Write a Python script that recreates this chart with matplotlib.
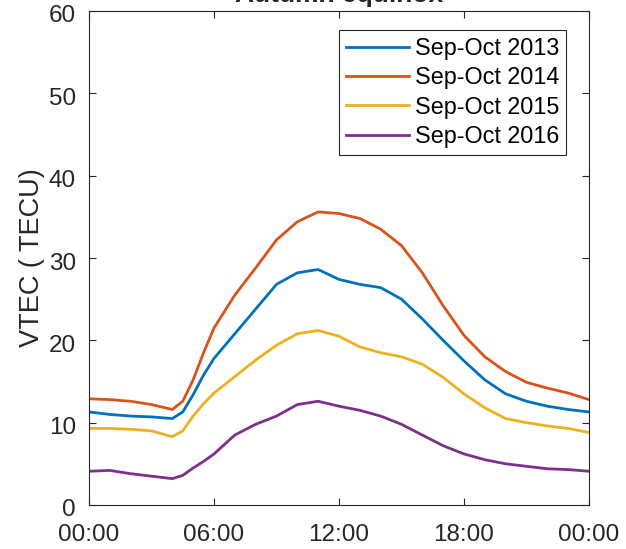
import matplotlib.pyplot as plt
import matplotlib.transforms as mtransforms
import numpy as np

plt.rcParams['font.family'] = ['Liberation Sans', 'DejaVu Sans']

# horas do dia (UT) e VTEC medio
horas = [0, 1, 2, 3, 4, 4.5, 5, 5.5, 6, 7, 8, 9, 10, 11, 12, 13, 14, 15, 16, 17, 18, 19, 20, 21, 22, 23, 24]
vtec_2013 = [11.3, 11.0, 10.8, 10.7, 10.5, 11.3, 13.4, 15.8, 17.8, 20.8, 23.8, 26.8, 28.2, 28.6, 27.4, 26.8, 26.4, 25.0, 22.6, 20.0, 17.5, 15.2, 13.5, 12.6, 12.0, 11.6, 11.3]
vtec_2014 = [12.9, 12.8, 12.6, 12.2, 11.6, 12.6, 15.2, 18.5, 21.5, 25.5, 28.8, 32.2, 34.4, 35.6, 35.4, 34.8, 33.5, 31.5, 28.2, 24.2, 20.6, 18.0, 16.2, 14.9, 14.2, 13.6, 12.8]
vtec_2015 = [9.3, 9.3, 9.2, 9.0, 8.3, 9.0, 10.8, 12.3, 13.6, 15.6, 17.6, 19.4, 20.8, 21.2, 20.5, 19.2, 18.5, 18.0, 17.1, 15.5, 13.5, 11.8, 10.5, 10.0, 9.6, 9.3, 8.8]
vtec_2016 = [4.1, 4.2, 3.8, 3.5, 3.2, 3.6, 4.5, 5.3, 6.2, 8.5, 9.8, 10.8, 12.2, 12.6, 12.0, 11.5, 10.8, 9.8, 8.5, 7.2, 6.2, 5.5, 5.0, 4.7, 4.4, 4.3, 4.1]

series = [('Sep-Oct 2013', vtec_2013, '#0072BD'),
          ('Sep-Oct 2014', vtec_2014, '#D95319'),
          ('Sep-Oct 2015', vtec_2015, '#EDB120'),
          ('Sep-Oct 2016', vtec_2016, '#7E2F8E')]

xticks = [0, 6, 12, 18, 24]
xlabels = ['00:00', '06:00', '12:00', '18:00', '00:00']

fig = plt.figure(figsize=(6.26, 5.49), dpi=100)
ax = fig.add_axes([89/626, 44/549, 500/626, 494/549])

for nome, v, cor in series:
    ax.plot(horas, v, color=cor, lw=2, label=nome)

ax.set_xlim(0, 24)
ax.set_ylim(0, 60)
ax.set_xticks(xticks)
ax.set_xticklabels(xlabels)
ax.set_yticks(np.arange(0, 61, 10))
ax.tick_params(direction='in', top=True, right=True, labelsize=17.5,
               colors='#262626', length=5, width=0.8)
ax.tick_params(axis='x', pad=14)
ax.tick_params(axis='y', pad=9.5)
# rotulos do eixo y um pouco abaixo, como no matlab
desloc = mtransforms.ScaledTranslation(0, -3/100, fig.dpi_scale_trans)
for lab in ax.get_yticklabels():
    lab.set_transform(lab.get_transform() + desloc)
for s in ax.spines.values():
    s.set_color('#262626')
    s.set_linewidth(0.8)
ax.set_ylabel('VTEC ( TECU)', fontsize=19.5, color='#262626', labelpad=3)

leg = ax.legend(loc='upper right', bbox_to_anchor=(477/500, 475/494),
                borderaxespad=0, fontsize=16.8, handlelength=2.7,
                handletextpad=0.25, fancybox=False, framealpha=1,
                labelspacing=0.27, borderpad=0.3)
leg.get_frame().set_edgecolor('#262626')
leg.get_frame().set_linewidth(0.8)

fig.text(339/626, 1 - 2/549, 'Autumn equinox', ha='center', va='baseline',
         fontsize=19, fontweight='bold', color='#262626')

fig.savefig('out.png', dpi=100)
